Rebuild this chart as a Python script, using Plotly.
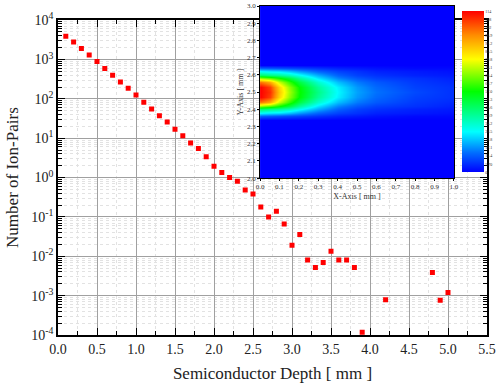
import plotly.graph_objects as go

# ---- main series: ion pairs vs depth ----
depth = [0.1, 0.2, 0.3, 0.4, 0.5, 0.6, 0.7, 0.8, 0.9, 1.0,
         1.1, 1.2, 1.3, 1.4, 1.5, 1.6, 1.7, 1.8, 1.9, 2.0,
         2.1, 2.2, 2.3, 2.4, 2.5, 2.6, 2.7, 2.8, 2.9, 3.0,
         3.1, 3.2, 3.3, 3.4, 3.5, 3.6, 3.7, 3.8, 3.9, 4.2,
         4.8, 4.9, 5.0]
ion_pairs = [3900, 2800, 1900, 1300, 890, 590, 400, 270, 185, 125,
             82, 55, 37, 26, 17, 11.6, 7.6, 5.5, 3.4, 1.95,
             1.35, 1.0, 0.81, 0.48, 0.38, 0.18, 0.10, 0.14, 0.066, 0.019,
             0.036, 0.008, 0.0052, 0.007, 0.0135, 0.008, 0.008, 0.0052, 0.000117, 0.00079,
             0.0039, 0.00076, 0.0012]

y_tickvals = [1e-4, 1e-3, 1e-2, 1e-1, 1e0, 1e1, 1e2, 1e3, 1e4]
y_ticktext = ["10<sup>-4</sup>", "10<sup>-3</sup>", "10<sup>-2</sup>", "10<sup>-1</sup>",
              "10<sup>0</sup>", "10<sup>1</sup>", "10<sup>2</sup>", "10<sup>3</sup>", "10<sup>4</sup>"]

# ---- inset heatmap ----
hm_x = [0.0, 0.05, 0.1, 0.15, 0.2, 0.3, 0.4, 0.5, 0.6, 0.8, 1.0]
hm_y = [2.0, 2.34, 2.36, 2.38, 2.40, 2.42, 2.44, 2.47, 2.50, 2.53,
        2.56, 2.58, 2.60, 2.62, 2.64, 2.66, 3.0]
hm_z = [
    [0, 0, 0, 0, 0, 0, 0, 0, 0, 0, 0],
    [0, 0, 0, 0, 0, 0, 0, 0, 0, 0, 0],
    [12, 11, 10, 9, 8, 6, 4, 3, 2, 1, 1],
    [28, 26, 25, 22, 18, 12, 8, 6, 4, 3, 2],
    [45, 42, 40, 36, 30, 20, 12, 8, 6, 4, 3],
    [70, 65, 58, 50, 40, 26, 16, 11, 8, 6, 4],
    [100, 92, 75, 62, 50, 34, 22, 15, 11, 7, 5],
    [114, 106, 86, 70, 57, 40, 27, 18, 13, 8, 6],
    [114, 108, 88, 72, 58, 42, 28, 19, 14, 9, 6],
    [114, 106, 86, 70, 57, 40, 27, 18, 13, 8, 6],
    [100, 92, 75, 62, 50, 34, 22, 15, 11, 7, 5],
    [70, 65, 58, 50, 40, 26, 16, 11, 8, 6, 4],
    [45, 42, 40, 36, 30, 20, 12, 8, 6, 4, 3],
    [28, 26, 25, 22, 18, 12, 8, 6, 4, 3, 2],
    [12, 11, 10, 9, 8, 6, 4, 3, 2, 1, 1],
    [0, 0, 0, 0, 0, 0, 0, 0, 0, 0, 0],
    [0, 0, 0, 0, 0, 0, 0, 0, 0, 0, 0],
]
cb_tickvals = [0, 5.7, 11.4, 17.1, 22.8, 28.5, 34.2, 39.9, 45.6, 51.3, 57.0,
               62.7, 68.4, 74.1, 79.8, 85.5, 91.2, 96.9, 102.6, 108.3, 114]
cb_ticktext = ["0", "5.70", "11.4", "17.1", "22.8", "28.5", "34.2", "39.9", "45.6", "51.3", "57.0",
               "62.7", "68.4", "74.1", "79.8", "85.5", "91.2", "96.9", "102", "108", "114"]

FONT = "Liberation Serif"

fig = go.Figure()

fig.add_trace(go.Scatter(
    x=depth, y=ion_pairs, mode="markers",
    marker=dict(symbol="square", size=5, color="#ff0000", line=dict(width=0)),
    xaxis="x", yaxis="y", showlegend=False,
))

fig.add_trace(go.Heatmap(
    x=hm_x, y=hm_y, z=hm_z, zmin=0, zmax=114, zsmooth="best",
    colorscale=[[0, "rgb(0,0,255)"], [0.12, "rgb(0,110,255)"], [0.25, "rgb(0,255,255)"],
                [0.5, "rgb(0,255,0)"], [0.7, "rgb(255,255,0)"], [0.85, "rgb(255,140,0)"],
                [1, "rgb(255,0,0)"]],
    xaxis="x2", yaxis="y2", showscale=True,
    colorbar=dict(
        x=0.942, xanchor="left", thickness=22, xpad=0, ypad=0,
        y=0.495, yanchor="bottom", len=0.49, lenmode="fraction",
        outlinewidth=0, tickvals=cb_tickvals, ticktext=cb_ticktext,
        ticks="", ticklabelposition="outside",
        tickfont=dict(family=FONT, size=4, color="#333"),
    ),
))

axis_line = dict(showline=True, linecolor="black", linewidth=1.5, mirror="allticks")

fig.update_layout(
    width=496, height=385,
    margin=dict(l=58, r=9, t=6, b=50, autoexpand=False),
    paper_bgcolor="white", plot_bgcolor="white",
    font=dict(family=FONT, color="#222"),
    xaxis=dict(
        range=[0, 5.5], domain=[0, 1], anchor="y",
        tickmode="linear", tick0=0, dtick=0.5, tickformat=".1f",
        ticks="inside", ticklen=7, tickwidth=1.2, tickcolor="black",
        showgrid=True, gridcolor="#a0a0a0", gridwidth=1,
        minor=dict(dtick=0.25, ticks="inside", ticklen=4, tickcolor="black",
                   showgrid=True, gridcolor="#e2e2e2", griddash="dot"),
        tickfont=dict(family=FONT, size=14, color="#222"),
        title=dict(text="Semiconductor Depth [ mm ]", font=dict(family=FONT, size=17, color="#222"),
                   standoff=12),
        zeroline=False, **axis_line,
    ),
    yaxis=dict(
        type="log", range=[-4, 4], domain=[0, 0.957], anchor="x",
        tickvals=y_tickvals, ticktext=y_ticktext,
        ticks="inside", ticklen=7, tickwidth=1.2, tickcolor="black",
        showgrid=True, gridcolor="#a0a0a0", gridwidth=1,
        minor=dict(dtick="D1", ticks="inside", ticklen=4, tickcolor="black",
                   showgrid=True, gridcolor="#e2e2e2", griddash="dot"),
        tickfont=dict(family=FONT, size=14, color="#222"),
        title=dict(text="Number of Ion-Pairs", font=dict(family=FONT, size=17, color="#222"),
                   standoff=8),
        zeroline=False, **axis_line,
    ),
    xaxis2=dict(
        range=[0, 1], domain=[0.471, 0.923], anchor="y2",
        tickmode="linear", tick0=0, dtick=0.1, tickformat=".1f",
        ticks="outside", ticklen=2, tickcolor="black",
        showline=True, linecolor="black", linewidth=1, mirror=True,
        showgrid=False, zeroline=False,
        tickfont=dict(family=FONT, size=7, color="#333"),
        title=dict(text="X-Axis [ mm ]", font=dict(family=FONT, size=8, color="#333"), standoff=2),
    ),
    yaxis2=dict(
        range=[2, 3], domain=[0.477, 1.0], anchor="x2",
        tickmode="linear", tick0=2, dtick=0.1, tickformat=".1f",
        ticks="outside", ticklen=2, tickcolor="black",
        showline=True, linecolor="black", linewidth=1, mirror=True,
        showgrid=False, zeroline=False,
        tickfont=dict(family=FONT, size=7, color="#333"),
        title=dict(text="Y-Axis [ mm ]", font=dict(family=FONT, size=8, color="#333"), standoff=2),
    ),
)

fig.write_html("out.html")
